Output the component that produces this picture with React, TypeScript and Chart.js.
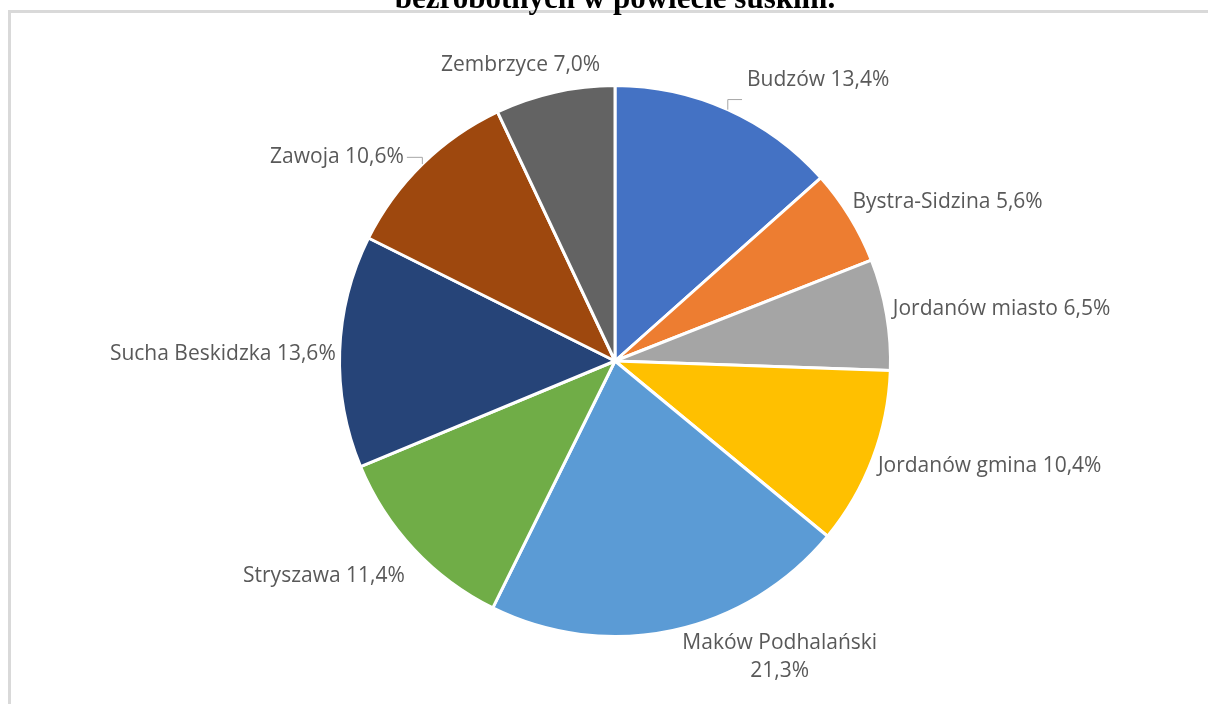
import React, { useEffect, useRef } from "react";
import { Chart, registerables } from "chart.js";

Chart.register(...registerables);

const categories = [
  "Budzów",
  "Bystra-Sidzina",
  "Jordanów miasto",
  "Jordanów gmina",
  "Maków Podhalański",
  "Stryszawa",
  "Sucha Beskidzka",
  "Zawoja",
  "Zembrzyce",
];
const shares = [13.4, 5.6, 6.5, 10.4, 21.3, 11.4, 13.6, 10.6, 7.0];
const labelLines = [
  ["Budzów 13,4%"],
  ["Bystra-Sidzina 5,6%"],
  ["Jordanów miasto 6,5%"],
  ["Jordanów gmina 10,4%"],
  ["Maków Podhalański", "21,3%"],
  ["Stryszawa 11,4%"],
  ["Sucha Beskidzka 13,6%"],
  ["Zawoja 10,6%"],
  ["Zembrzyce 7,0%"],
];
const sliceColors = [
  "#4472C4",
  "#ED7D31",
  "#A5A5A5",
  "#FFC000",
  "#5B9BD5",
  "#70AD47",
  "#264478",
  "#9E480E",
  "#636363",
];
const titleText = "bezrobotnych w powiecie suskim.";

// layout tweaks for label placement (pixels), not data
const labelNudge: [number, number][] = [
  [58, -10],
  [10, -3],
  [0, -2],
  [5, 0],
  [85, -9],
  [-25, 12],
  [4, 3],
  [-33, 9],
  [-15, -6],
];
const leaderFlags = [true, false, false, false, false, false, false, true, false];

const LABEL_FONT = '21px "Open Sans"';
const LINE_H = 28;

const labelPlugin = {
  id: "outsideLabels",
  afterDatasetsDraw(chart: any) {
    const ctx = chart.ctx;
    const meta = chart.getDatasetMeta(0);
    ctx.save();
    // clipped title line at top
    ctx.font = 'bold 31px "Liberation Serif", "Times New Roman", serif';
    ctx.fillStyle = "#000000";
    ctx.textAlign = "center";
    ctx.textBaseline = "alphabetic";
    ctx.fillText(titleText, 615, 8);

    ctx.font = LABEL_FONT;
    ctx.fillStyle = "#595959";
    ctx.textBaseline = "middle";
    ctx.textAlign = "center";
    meta.data.forEach((arc: any, i: number) => {
      const p = arc.getProps(["x", "y", "startAngle", "endAngle", "outerRadius"], true);
      const mid = (p.startAngle + p.endAngle) / 2;
      const c = Math.cos(mid);
      const s = Math.sin(mid);
      const R = p.outerRadius + 8;
      const px = p.x + c * R;
      const py = p.y + s * R;
      const lines = labelLines[i];
      const w = Math.max(...lines.map((l) => ctx.measureText(l).width));
      const h = LINE_H * lines.length;
      const cx = px + (c * w) / 2 + labelNudge[i][0];
      const cy = py + (s * h) / 2 + labelNudge[i][1];
      lines.forEach((l, k) => {
        ctx.fillText(l, cx, cy - h / 2 + LINE_H * (k + 0.5));
      });
      if (leaderFlags[i]) {
        const ex = p.x + c * p.outerRadius;
        const ey = p.y + s * p.outerRadius;
        const left = cx - w / 2;
        const right = cx + w / 2;
        const bottom = cy + h / 2;
        const ay = ey > bottom + 8 ? bottom + 6 : cy;
        const ax = ex > cx ? right + 3 : left - 5;
        ctx.strokeStyle = "#A6A6A6";
        ctx.lineWidth = 1;
        ctx.beginPath();
        ctx.moveTo(ex, ey);
        ctx.lineTo(ex, ay);
        ctx.lineTo(ax, ay);
        ctx.stroke();
      }
    });
    ctx.restore();
  },
};

export default function App() {
  const ref = useRef<HTMLCanvasElement | null>(null);
  useEffect(() => {
    if (!ref.current) return;
    const chart = new Chart(ref.current, {
      type: "pie",
      data: {
        labels: categories,
        datasets: [
          {
            data: shares,
            backgroundColor: sliceColors,
            borderColor: "#FFFFFF",
            borderWidth: 3,
          },
        ],
      },
      options: {
        animation: false,
        responsive: false,
        layout: { padding: { top: 84, bottom: 66, left: 338, right: 316 } },
        plugins: {
          legend: { display: false },
          tooltip: { enabled: false },
          title: { display: false },
        },
      },
      plugins: [labelPlugin],
    });
    return () => chart.destroy();
  }, []);

  return (
    <div
      style={{
        position: "fixed",
        left: 0,
        top: 0,
        width: 1208,
        height: 704,
        overflow: "hidden",
        background: "#FFFFFF",
      }}
    >
      <div
        style={{
          position: "absolute",
          left: 8,
          top: 10,
          width: 1400,
          height: 900,
          border: "3px solid #D9D9D9",
          boxSizing: "border-box",
        }}
      />
      <canvas
        ref={ref}
        width={1208}
        height={704}
        style={{ position: "absolute", left: 0, top: 0, width: 1208, height: 704 }}
      />
    </div>
  );
}
